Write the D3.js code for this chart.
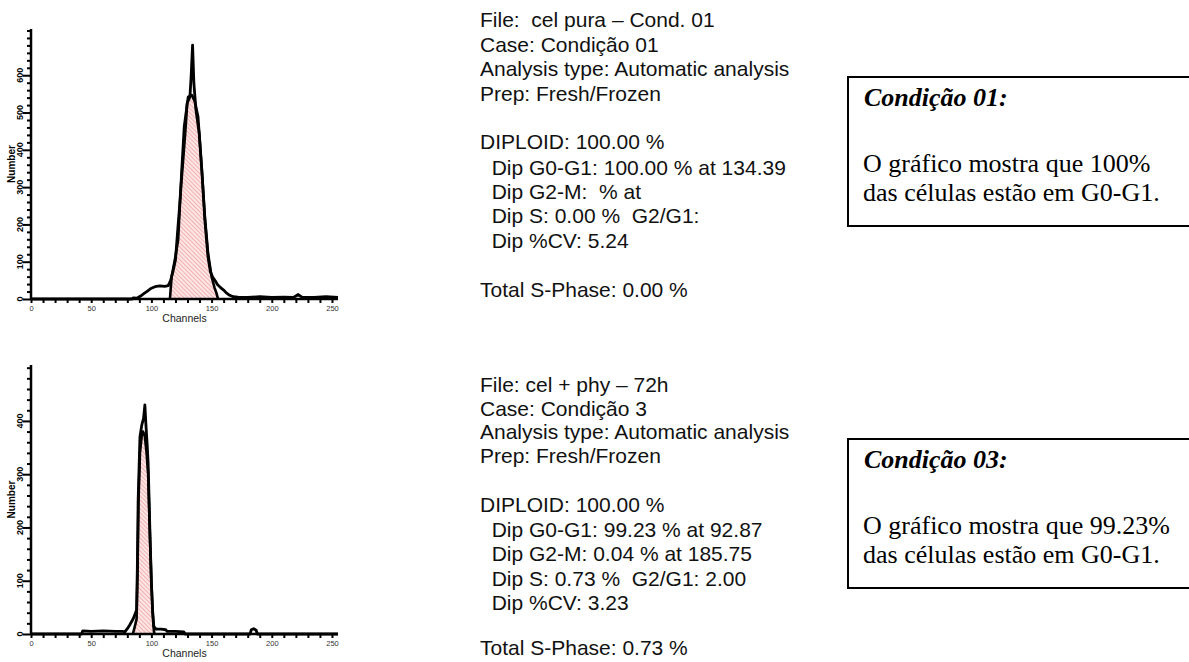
<!DOCTYPE html>
<html>
<head>
<meta charset="utf-8">
<script src="https://cdn.jsdelivr.net/npm/d3@7"></script>
<style>
  html, body { margin: 0; padding: 0; background: #fff; }
  svg { display: block; }
  .pre { white-space: pre; }
</style>
</head>
<body>
<svg id="chart" width="1189" height="662"></svg>
<script>
// ---- DNA histogram data (channel, count) ----
const channelTicks = [0, 50, 100, 150, 200, 250];

// Condição 01: measured histogram
const histA = [
  [0,0],[84,0],[85,3],[88,2],[91,8],[94,15],[97,22],[100,29],[103,33],[107,35],
  [111,34],[114,36],[116,50],[118,75],[120,105],[122,190],[123,230],[125,320],
  [126,360],[128,444],[129.7,525],[132,542],[133,596],[134.2,681],[135.3,578],
  [137,507],[139.7,444],[142,340],[144.4,212],[147,113],[149,73],[151,58],[153,49],
  [155,38],[157,32],[160,24],[162,17],[165,10],[168,6],[172,5],[180,4],[190,6],
  [200,4],[210,5],[218,4],[222,12],[225,5],[235,4],[245,6],[255,4]
];
// Condição 01: G0-G1 model fit
const fitA = [
  [115.4,0],[116.8,60],[119.5,105],[122.2,158],[125,338],[127.2,462],[130.5,542],
  [133.6,547],[136,530],[138.8,489],[141.7,355],[144.4,221],[147.1,122],[150,60],
  [152.5,30],[154.1,15],[155.4,0]
];
const countTicksA = [0, 100, 200, 300, 400, 500, 600];
const countMaxA = 724;

// Condição 3: measured histogram
const histB = [
  [0,0],[42,0],[43,6],[50,5],[60,6],[70,5],[76,5],[78,4],[80,10],[82,17],[85,29],
  [87.7,45],[88.3,120],[89,251],[90.5,370],[92,392],[93.5,405],[94.6,430],[95.4,395],
  [96.5,355],[97.3,320],[98.8,190],[100,95],[101,45],[102,14],[104,9],[108,9],
  [112,8],[113,5],[120,5],[127,4],[128,0],[182,0],[183,8],[185,10],[187,7],[188,0],[255,0]
];
// Condição 3: G0-G1 model fit
const fitB = [
  [84.6,0],[86,12],[87.7,28],[88.5,120],[89.3,250],[90.5,340],[92,372],[93,380],
  [94.5,372],[96,340],[97.3,300],[98.8,183],[100,100],[101,40],[102,8],[102.5,0]
];
const countTicksB = [0, 100, 200, 300, 400];
const countMaxB = 505;

// ---- report text ----
const reportA = [
  "File:  cel pura \u2013 Cond. 01",
  "Case: Condi\u00e7\u00e3o 01",
  "Analysis type: Automatic analysis",
  "Prep: Fresh/Frozen",
  "DIPLOID: 100.00 %",
  "  Dip G0-G1: 100.00 % at 134.39",
  "  Dip G2-M:  % at",
  "  Dip S: 0.00 %  G2/G1:",
  "  Dip %CV: 5.24",
  "Total S-Phase: 0.00 %"
];
const reportB = [
  "File: cel + phy \u2013 72h",
  "Case: Condi\u00e7\u00e3o 3",
  "Analysis type: Automatic analysis",
  "Prep: Fresh/Frozen",
  "DIPLOID: 100.00 %",
  "  Dip G0-G1: 99.23 % at 92.87",
  "  Dip G2-M: 0.04 % at 185.75",
  "  Dip S: 0.73 %  G2/G1: 2.00",
  "  Dip %CV: 3.23",
  "Total S-Phase: 0.73 %"
];
const notesA = ["Condi\u00e7\u00e3o 01:", "O gr\u00e1fico mostra que 100%", "das c\u00e9lulas est\u00e3o em G0-G1."];
const notesB = ["Condi\u00e7\u00e3o 03:", "O gr\u00e1fico mostra que 99.23%", "das c\u00e9lulas est\u00e3o em G0-G1."];

const svg = d3.select("#chart");

// diagonal hatch used for the fitted G0-G1 peak
const defs = svg.append("defs");
const pat = defs.append("pattern")
  .attr("id", "hatch").attr("patternUnits", "userSpaceOnUse")
  .attr("width", 3).attr("height", 3)
  .attr("patternTransform", "rotate(-45)");
pat.append("rect").attr("width", 3).attr("height", 3).attr("fill", "#fde6e6");
pat.append("line").attr("x1", 0).attr("y1", 0).attr("x2", 0).attr("y2", 3)
  .attr("stroke", "#ee8c8c").attr("stroke-width", 1.2);

function histogram(cfg) {
  const x = d3.scaleLinear().domain([0, 255]).range([31, 338]);
  const y = d3.scaleLinear().domain([0, cfg.max]).range([cfg.bottom, cfg.top]);
  const g = svg.append("g");

  const area = d3.area().x(d => x(d[0])).y0(y(0)).y1(d => y(d[1]));
  const line = d3.line().x(d => x(d[0])).y(d => y(d[1]));

  g.append("path").datum(cfg.fit).attr("d", area).attr("fill", "url(#hatch)");
  g.append("path").datum(cfg.fit).attr("d", line)
    .attr("fill", "none").attr("stroke", "#000").attr("stroke-width", 2.6)
    .attr("stroke-linejoin", "round");
  g.append("path").datum(cfg.hist).attr("d", line)
    .attr("fill", "none").attr("stroke", "#000").attr("stroke-width", 2.8)
    .attr("stroke-linejoin", "round");

  // x axis: minor ticks every 10 channels, labels every 50
  const xa = g.append("g").attr("transform", `translate(0,${cfg.bottom})`)
    .call(d3.axisBottom(x).tickValues(d3.range(0, 251, 10)).tickSize(4)
      .tickFormat(d => channelTicks.includes(d) ? d : ""));
  xa.select(".domain").attr("d", `M${x(0)},0H${x(255)}`).attr("stroke-width", 2.5);
  xa.selectAll(".tick line").attr("stroke-width", 2);
  xa.selectAll(".tick text").attr("y", 7).attr("font-size", 7.5)
    .attr("font-family", "Liberation Sans, Arial, sans-serif").attr("fill", "#333");
  g.append("text").attr("x", 184.5).attr("y", cfg.bottom + 23)
    .attr("text-anchor", "middle").attr("font-size", 10.5)
    .attr("font-family", "Liberation Sans, Arial, sans-serif").attr("fill", "#222")
    .text("Channels");

  // y axis: minor ticks every 20 counts, labelled majors every 100
  const minor = d3.range(0, cfg.max, 20);
  const ya = g.append("g").attr("transform", "translate(31,0)")
    .call(d3.axisLeft(y).tickValues(minor).tickSize(4).tickFormat(""));
  ya.select(".domain").attr("d", `M0,${y(0)}V${cfg.top}`).attr("stroke-width", 2.5);
  ya.selectAll(".tick line").attr("stroke-width", 2)
    .attr("x2", d => cfg.ticks.includes(d) ? -8 : -4);
  g.selectAll(".ylab").data(cfg.ticks).join("text")
    .attr("transform", d => `translate(23,${y(d)}) rotate(-90)`)
    .attr("text-anchor", "middle").attr("font-size", 9).attr("font-weight", "bold")
    .attr("font-family", "Liberation Sans, Arial, sans-serif")
    .text(d => d);
  g.append("text")
    .attr("transform", `translate(15,${(cfg.top + cfg.bottom) / 2}) rotate(-90)`)
    .attr("text-anchor", "middle").attr("font-size", 10).attr("font-weight", "bold")
    .attr("font-family", "Liberation Sans, Arial, sans-serif")
    .text("Number");
}

histogram({ hist: histA, fit: fitA, ticks: countTicksA, max: countMaxA, top: 29, bottom: 299 });
histogram({ hist: histB, fit: fitB, ticks: countTicksB, max: countMaxB, top: 365, bottom: 634 });

// ModFit-style report text
function report(lines, baselines) {
  svg.append("g").selectAll("text").data(lines).join("text")
    .attr("class", "pre")
    .attr("x", 480).attr("y", (d, i) => baselines[i])
    .attr("font-size", 21).attr("font-family", "Liberation Sans, Arial, sans-serif")
    .attr("fill", "#111").text(d => d);
}
report(reportA, [27, 51.5, 76, 100.5, 148.5, 175, 199, 223, 247.5, 297]);
report(reportB, [392, 415.5, 439, 462.5, 512, 536.5, 561, 586, 610, 655]);

// summary boxes
function note(lines, top) {
  const g = svg.append("g");
  g.append("rect").attr("x", 848).attr("y", top).attr("width", 360).attr("height", 149)
    .attr("fill", "none").attr("stroke", "#000").attr("stroke-width", 2);
  g.append("text").attr("x", 864).attr("y", top + 29)
    .attr("font-family", "Liberation Serif, Times New Roman, serif")
    .attr("font-size", 26).attr("font-weight", "bold").attr("font-style", "italic")
    .text(lines[0]);
  g.selectAll(".body").data(lines.slice(1)).join("text")
    .attr("x", 863).attr("y", (d, i) => top + 95 + i * 28.5)
    .attr("font-family", "Liberation Serif, Times New Roman, serif")
    .attr("font-size", 26).text(d => d);
}
note(notesA, 77);
note(notesB, 439);
</script>
</body>
</html>
